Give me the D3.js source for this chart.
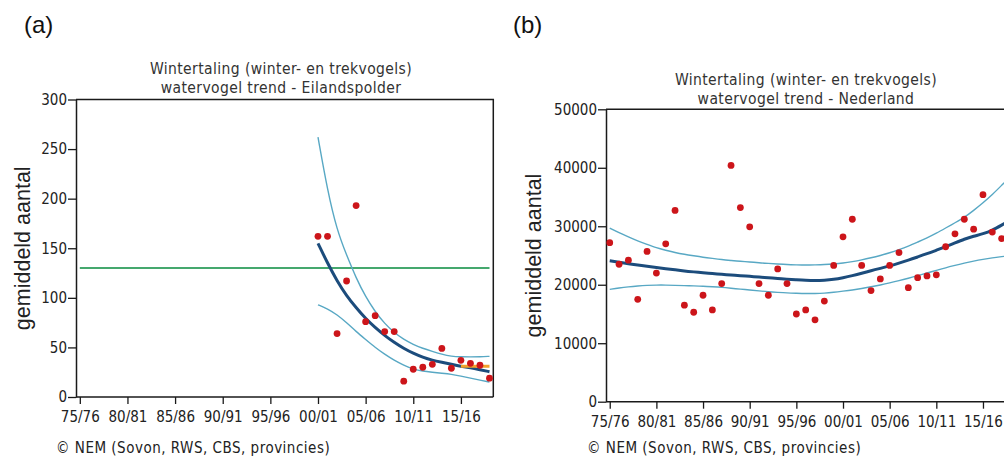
<!DOCTYPE html>
<html>
<head>
<meta charset="utf-8">
<script src="https://cdn.jsdelivr.net/npm/d3@7"></script>
<style>
  body { margin: 0; background: #fff; }
  svg { display: block; }
  .tick text { font-family: "DejaVu Sans Condensed", "DejaVu Sans", sans-serif; font-size: 15px; fill: #222; }
</style>
</head>
<body>
<div id="chart"></div>
<script>
// ---- Data: Eilandspolder (a) ----
var yearsA = [2000, 2001, 2002, 2003, 2004, 2005, 2006, 2007, 2008, 2009,
              2010, 2011, 2012, 2013, 2014, 2015, 2016, 2017, 2018];
var countsA = [162, 162, 64, 117, 193, 76, 82, 66, 66, 16,
               28, 30, 33, 49, 29, 37, 34, 32, 19];
var trendA = [155, 135, 117, 102, 90, 79, 70, 62, 55, 49,
              44, 40, 37, 35, 33, 31, 29.5, 27.5, 25.5];
var upperA = [262, 208, 168, 143, 120, 101, 86, 74, 65, 58,
              53, 49, 46, 43, 41, 40.5, 40.5, 40.5, 41];
var lowerA = [93, 89, 83, 75, 66, 58, 50, 43, 37, 32,
              28, 26, 25, 24, 23, 21, 19, 17, 15];
var targetA = 130;                      // green reference level
var recentYearsA = [2015, 2018];        // short orange segment
var recentLevelA = 31;

// ---- Data: Nederland (b) ----
var yearsB = [1975, 1976, 1977, 1978, 1979, 1980, 1981, 1982, 1983, 1984,
              1985, 1986, 1987, 1988, 1989, 1990, 1991, 1992, 1993, 1994,
              1995, 1996, 1997, 1998, 1999, 2000, 2001, 2002, 2003, 2004,
              2005, 2006, 2007, 2008, 2009, 2010, 2011, 2012, 2013, 2014,
              2015, 2016, 2017, 2018];
var countsB = [27200, 23500, 24200, 17500, 25700, 22000, 27000, 32700, 16500, 15300,
               18200, 15700, 20200, 40400, 33200, 29900, 20200, 18200, 22700, 20200,
               15000, 15700, 14000, 17200, 23300, 28200, 31200, 23300, 19000, 21000,
               23300, 25500, 19500, 21200, 21500, 21700, 26500, 28700, 31200, 29500,
               35400, 29000, 27900, 28500];
var trendB = [24100, 23850, 23600, 23350, 23150, 22950, 22750, 22550, 22350, 22200,
              22050, 21900, 21800, 21650, 21550, 21450, 21300, 21200, 21050, 20950,
              20850, 20750, 20700, 20750, 20900, 21200, 21550, 21950, 22400, 22800,
              23200, 23700, 24200, 24750, 25300, 25900, 26500, 27150, 27800, 28300,
              28700, 29300, 30200, 31100];
var upperB = [29700, 28900, 28200, 27500, 26900, 26300, 25900, 25500, 25200, 24950,
              24700, 24500, 24300, 24150, 24000, 23900, 23750, 23650, 23550, 23450,
              23400, 23350, 23400, 23450, 23550, 23700, 23950, 24250, 24600, 25000,
              25450, 26000, 26600, 27300, 28000, 28800, 29700, 30600, 31500, 32700,
              34000, 35400, 37000, 38600];
var lowerB = [19200, 19450, 19650, 19800, 19900, 19950, 19950, 19900, 19850, 19800,
              19750, 19650, 19550, 19400, 19250, 19100, 18950, 18800, 18700, 18600,
              18550, 18500, 18500, 18550, 18700, 18900, 19100, 19350, 19650, 19950,
              20300, 20700, 21100, 21550, 22000, 22450, 22900, 23300, 23700, 24050,
              24350, 24600, 24800, 25000];

// ---- Shared axis labels ----
var tickYears = [1975, 1980, 1985, 1990, 1995, 2000, 2005, 2010, 2015];
var tickLabels = ["75/76", "80/81", "85/86", "90/91", "95/96", "00/01", "05/06", "10/11", "15/16"];
var yTicksA = [0, 50, 100, 150, 200, 250, 300];
var yTicksB = [0, 10000, 20000, 30000, 40000, 50000];
var titleLine1 = "Wintertaling (winter- en trekvogels)";
var credit = "\u00A9 NEM (Sovon, RWS, CBS, provincies)";
var yLabel = "gemiddeld aantal";

var W = 1004, H = 459;
var svg = d3.select('#chart').append('svg')
    .attr('width', W)
    .attr('height', H);
svg.append('rect').attr('width', W).attr('height', H).attr('fill', '#fff');

var colors = {
    dot: '#cc151a',
    trend: '#1c4c7c',
    ci: '#58a8c4',
    target: '#45a86e',
    recent: '#f2a22c',
    axis: '#1a1a1a',
    text: '#333'
};

function drawPanel(p) {
    var x = d3.scaleLinear().domain([1974.6, 2018.4]).range([p.left, p.right]);
    var y = d3.scaleLinear().domain([0, p.yMax]).range([p.bottom, p.top]);

    var g = svg.append('g');

    // panel letter
    g.append('text')
        .attr('x', p.letterX).attr('y', 33)
        .attr('font-family', 'Liberation Sans, Arial, sans-serif')
        .attr('font-size', 24)
        .attr('fill', '#111')
        .text(p.letter);

    // title
    var title = g.append('text')
        .attr('x', p.titleX).attr('y', p.titleY)
        .attr('text-anchor', 'middle')
        .attr('font-family', '"DejaVu Sans Condensed", "DejaVu Sans", sans-serif')
        .attr('font-size', 15.5)
        .attr('letter-spacing', 0.4)
        .attr('fill', colors.text);
    title.append('tspan').attr('x', p.titleX).attr('dy', 0).text(titleLine1);
    title.append('tspan').attr('x', p.titleX).attr('dy', 19).text(p.subtitle);

    // frame (top + right)
    g.append('path')
        .attr('d', 'M' + p.left + ',' + p.top + 'H' + p.right + 'V' + p.bottom)
        .attr('fill', 'none')
        .attr('stroke', colors.axis)
        .attr('stroke-width', 1.5);

    // axes
    var xAxis = d3.axisBottom(x)
        .tickValues(tickYears)
        .tickFormat(function(d, i) { return tickLabels[i]; })
        .tickSize(7)
        .tickSizeOuter(0);
    var gx = g.append('g')
        .attr('transform', 'translate(0,' + p.bottom + ')')
        .call(xAxis);
    gx.select('.domain')
        .attr('d', 'M' + p.left + ',0H' + p.right)
        .attr('stroke', colors.axis).attr('stroke-width', 1.5);
    gx.selectAll('.tick line').attr('stroke', colors.axis).attr('stroke-width', 1.3);
    gx.selectAll('.tick text').attr('dy', '1.0em');

    var yAxis = d3.axisLeft(y)
        .tickValues(p.yTicks)
        .tickFormat(d3.format('d'))
        .tickSize(8)
        .tickSizeOuter(0);
    var gy = g.append('g')
        .attr('transform', 'translate(' + p.left + ',0)')
        .call(yAxis);
    gy.select('.domain').attr('stroke', colors.axis).attr('stroke-width', 1.5);
    gy.selectAll('.tick line').attr('stroke', colors.axis).attr('stroke-width', 1.3);
    gy.selectAll('.tick text').attr('x', -9);

    // y label
    g.append('text')
        .attr('transform', 'translate(' + p.yLabelX + ',' + ((p.top + p.bottom) / 2) + ') rotate(-90)')
        .attr('text-anchor', 'middle')
        .attr('font-family', 'Liberation Sans, Arial, sans-serif')
        .attr('font-size', 21.5)
        .attr('fill', '#222')
        .text(yLabel);

    // credit
    g.append('text')
        .attr('x', p.creditX).attr('y', 453)
        .attr('font-family', '"DejaVu Sans Condensed", "DejaVu Sans", sans-serif')
        .attr('font-size', 15)
        .attr('letter-spacing', 0.5)
        .attr('fill', '#222')
        .text(credit);

    var plot = g.append('g');

    if (p.target != null) {
        plot.append('line')
            .attr('x1', x(1975)).attr('x2', x(2018))
            .attr('y1', y(p.target)).attr('y2', y(p.target))
            .attr('stroke', colors.target)
            .attr('stroke-width', 2);
    }

    var line = d3.line()
        .x(function(d) { return x(d[0]); })
        .y(function(d) { return y(d[1]); })
        .curve(d3.curveBasis);

    [p.upper, p.lower].forEach(function(series) {
        plot.append('path')
            .datum(d3.zip(p.years, series))
            .attr('d', line)
            .attr('fill', 'none')
            .attr('stroke', colors.ci)
            .attr('stroke-width', 1.4);
    });

    plot.append('path')
        .datum(d3.zip(p.years, p.trend))
        .attr('d', line)
        .attr('fill', 'none')
        .attr('stroke', colors.trend)
        .attr('stroke-width', 3);

    if (p.recentYears) {
        plot.append('line')
            .attr('x1', x(p.recentYears[0])).attr('x2', x(p.recentYears[1]))
            .attr('y1', y(p.recentLevel)).attr('y2', y(p.recentLevel))
            .attr('stroke', colors.recent)
            .attr('stroke-width', 3);
    }

    plot.selectAll('circle')
        .data(d3.zip(p.years, p.counts))
        .enter()
        .append('circle')
        .attr('cx', function(d) { return x(d[0]); })
        .attr('cy', function(d) { return y(d[1]); })
        .attr('r', 3.4)
        .attr('fill', colors.dot);
}

drawPanel({
    letter: '(a)', letterX: 24,
    subtitle: 'watervogel trend - Eilandspolder',
    titleX: 281, titleY: 74,
    left: 76, right: 493.3, top: 99.5, bottom: 397,
    yMax: 300, yTicks: yTicksA, yLabelX: 30,
    creditX: 56,
    years: yearsA, counts: countsA, trend: trendA, upper: upperA, lower: lowerA,
    target: targetA, recentYears: recentYearsA, recentLevel: recentLevelA
});

drawPanel({
    letter: '(b)', letterX: 513,
    subtitle: 'watervogel trend - Nederland',
    titleX: 806, titleY: 85,
    left: 606, right: 1014.7, top: 109.3, bottom: 401.7,
    yMax: 50000, yTicks: yTicksB, yLabelX: 541,
    creditX: 587,
    years: yearsB, counts: countsB, trend: trendB, upper: upperB, lower: lowerB,
    target: null
});
</script>
</body>
</html>
